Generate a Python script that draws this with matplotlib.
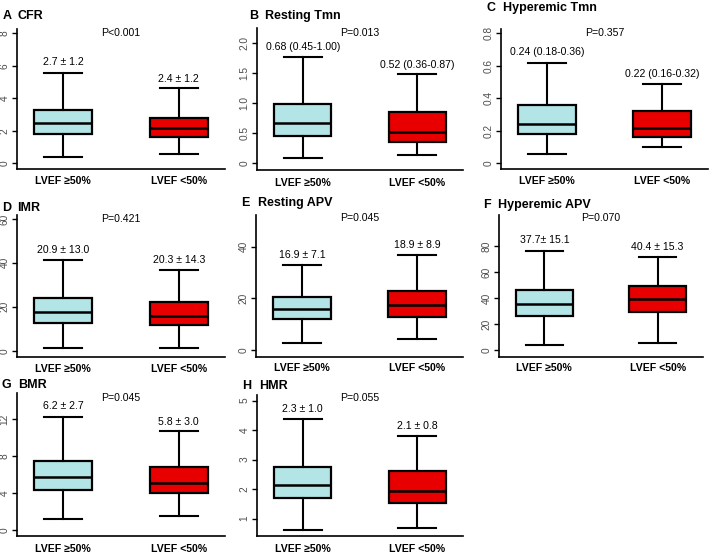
import matplotlib
matplotlib.use("Agg")
import matplotlib.pyplot as plt

plt.rcParams['font.family'] = ['Liberation Sans', 'DejaVu Sans']

# ---------------- data ----------------
groups = ["LVEF \u226550%", "LVEF <50%"]
panel_letters = ["A", "B", "C", "D", "E", "F", "G", "H"]
panel_names = ["CFR", "Resting Tmn", "Hyperemic Tmn", "IMR", "Resting APV",
               "Hyperemic APV", "BMR", "HMR"]
p_values = ["P<0.001", "P=0.013", "P=0.357", "P=0.421", "P=0.045",
            "P=0.070", "P=0.045", "P=0.055"]
# summary labels over each box (group >=50%, group <50%)
summary_hi = ["2.7 \u00b1 1.2", "0.68 (0.45-1.00)", "0.24 (0.18-0.36)", "20.9 \u00b1 13.0",
              "16.9 \u00b1 7.1", "37.7\u00b1 15.1", "6.2 \u00b1 2.7", "2.3 \u00b1 1.0"]
summary_lo = ["2.4 \u00b1 1.2", "0.52 (0.36-0.87)", "0.22 (0.16-0.32)", "20.3 \u00b1 14.3",
              "18.9 \u00b1 8.9", "40.4 \u00b1 15.3", "5.8 \u00b1 3.0", "2.1 \u00b1 0.8"]
# box stats: [whisker low, Q1, median, Q3, whisker high]
cfr_hi = [0.37, 1.78, 2.50, 3.28, 5.54]
cfr_lo = [0.57, 1.60, 2.19, 2.77, 4.62]
rtmn_hi = [0.09, 0.45, 0.68, 0.99, 1.78]
rtmn_lo = [0.14, 0.35, 0.52, 0.85, 1.49]
htmn_hi = [0.055, 0.18, 0.24, 0.36, 0.62]
htmn_lo = [0.098, 0.16, 0.22, 0.32, 0.49]
imr_hi = [1.1, 12.8, 17.5, 23.9, 41.3]
imr_lo = [1.1, 11.7, 15.8, 22.3, 36.6]
rapv_hi = [2.7, 11.9, 15.7, 20.4, 32.9]
rapv_lo = [4.3, 12.9, 17.4, 22.8, 36.8]
hapv_hi = [3.8, 26.2, 35.4, 46.2, 76.4]
hapv_lo = [5.6, 29.5, 39.0, 49.5, 71.8]
bmr_hi = [1.15, 4.32, 5.77, 7.46, 12.18]
bmr_lo = [1.51, 4.04, 5.05, 6.85, 10.67]
hmr_hi = [0.62, 1.70, 2.14, 2.76, 4.37]
hmr_lo = [0.68, 1.52, 1.95, 2.62, 3.81]
stats_hi = [cfr_hi, rtmn_hi, htmn_hi, imr_hi, rapv_hi, hapv_hi, bmr_hi, hmr_hi]
stats_lo = [cfr_lo, rtmn_lo, htmn_lo, imr_lo, rapv_lo, hapv_lo, bmr_lo, hmr_lo]
yticks = [[0, 2, 4, 6, 8], [0, 0.5, 1.0, 1.5, 2.0], [0, 0.2, 0.4, 0.6, 0.8],
          [0, 20, 40, 60], [0, 20, 40], [0, 20, 40, 60, 80], [0, 4, 8, 12], [1, 2, 3, 4, 5]]
ytick_labels = [["0", "2", "4", "6", "8"], ["0", "0.5", "1.0", "1.5", "2.0"],
                ["0", "0.2", "0.4", "0.6", "0.8"], ["0", "20", "40", "60"],
                ["0", "20", "40"], ["0", "20", "40", "60", "80"],
                ["0", "4", "8", "12"], ["1", "2", "3", "4", "5"]]

# ---------------- layout ----------------
W, H = 709, 556
# axes boxes in pixels: left, right, top, bottom
boxes = [(17, 225, 29.3, 169), (257, 463, 28.3, 170), (501, 708, 29.3, 169),
         (17, 225, 215, 357.3), (256, 463, 215, 356.7), (499, 703, 215, 356.7),
         (17, 225, 393, 535.7), (257, 463, 395, 535.7)]
ylims = [(-0.35, 8.25), (-0.11, 2.25), (-0.035, 0.825), (-3.0, 61.8),
         (-2.6, 52.3), (-5.1, 103.8), (-0.6, 14.8), (0.42, 5.19)]
# text y positions (data units): summary hi, summary lo, p-value
txt_y = [(6.23, 5.19, 8.02), (1.94, 1.64, 2.17), (0.685, 0.55, 0.80),
         (45.9, 41.3, 60.0), (36.8, 40.6, 51.1), (84.6, 79.0, 101.3),
         (13.4, 11.7, 14.27), (4.71, 4.14, 5.09)]
# title positions in pixels: letter x, name x, y
titles = [(3, 18, 15.7), (249, 265, 16), (486.7, 503, 8.3),
          (1.7, 17, 207.7), (241, 258, 203.3), (483, 497.5, 205),
          (1.7, 18, 385), (242, 259, 385.7)]
xlabel_pad = [5.4, 5.4, 5.4, 4.6, 4.6, 4.6, 6.3, 6.3]

col_hi = "#b3e5e6"
col_lo = "#e80000"

fig = plt.figure(figsize=(W / 100, H / 100), dpi=100)

for i in range(8):
    l, r, t, b = boxes[i]
    ax = fig.add_axes([l / W, 1 - b / H, (r - l) / W, (b - t) / H])
    stats = []
    for s in (stats_hi[i], stats_lo[i]):
        stats.append(dict(whislo=s[0], q1=s[1], med=s[2], q3=s[3], whishi=s[4], fliers=[]))
    bp = ax.bxp(stats, positions=[1, 2], widths=0.5, capwidths=0.33,
                patch_artist=True, showfliers=False,
                boxprops=dict(linewidth=1.6, edgecolor="black"),
                medianprops=dict(linewidth=1.8, color="black"),
                whiskerprops=dict(linewidth=1.5, color="black"),
                capprops=dict(linewidth=1.5, color="black"))
    for patch, c in zip(bp["boxes"], (col_hi, col_lo)):
        patch.set_facecolor(c)
    ax.set_xlim(0.6, 2.4)
    ax.set_ylim(*ylims[i])
    for sp in ("top", "right"):
        ax.spines[sp].set_visible(False)
    for sp in ("left", "bottom"):
        ax.spines[sp].set_linewidth(1.2)
    ax.set_yticks(yticks[i])
    ax.set_yticklabels(ytick_labels[i], rotation=90, va="center", fontsize=7.3, color="#4d4d4d")
    ax.tick_params(axis="y", length=3.5, width=1.0, pad=2)
    ax.set_xticks([1, 2])
    ax.set_xticklabels(groups, fontsize=7.6, fontweight="bold")
    ax.tick_params(axis="x", length=0, pad=xlabel_pad[i])
    yh, yl, yp = txt_y[i]
    ax.text(1, yh, summary_hi[i], ha="center", va="center", fontsize=7.6, clip_on=False)
    ax.text(2, yl, summary_lo[i], ha="center", va="center", fontsize=7.6, clip_on=False)
    ax.text(1.5, yp, p_values[i], ha="center", va="center", fontsize=7.6, clip_on=False)
    lx, nx, ty = titles[i]
    fig.text(lx / W, 1 - ty / H, panel_letters[i], ha="left", va="center",
             fontsize=9, fontweight="bold")
    fig.text(nx / W, 1 - ty / H, panel_names[i], ha="left", va="center",
             fontsize=9, fontweight="bold")

fig.savefig("out.png", dpi=100)
